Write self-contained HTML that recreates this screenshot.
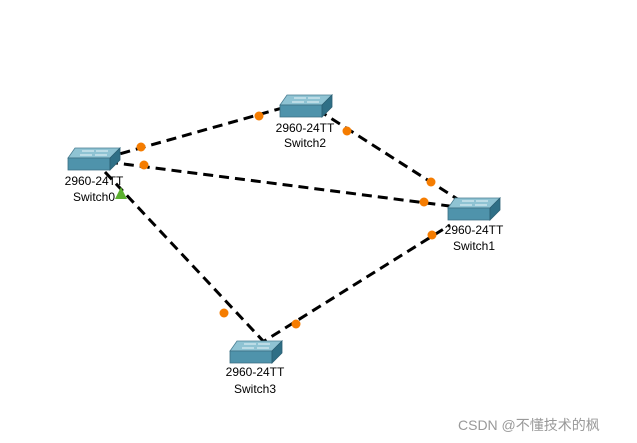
<!DOCTYPE html>
<html><head><meta charset="utf-8"><style>
html,body{margin:0;padding:0;background:#fff;}
svg{display:block;}
text{font-family:"Liberation Sans",Arial,sans-serif;font-size:12px;fill:#000;}
</style></head><body>
<svg width="637" height="443" viewBox="0 0 637 443" xmlns="http://www.w3.org/2000/svg">
<defs>
<g id="sw">
<polygon points="7,0 52,0 42,10 0,10" fill="#8fc3d3" stroke="#4b7f93" stroke-width="0.8"/>
<polygon points="0,10 42,10 42,22 0,22" fill="#4f93ab" stroke="#3b6f83" stroke-width="0.8"/>
<polygon points="42,10 52,0 52,12 42,22" fill="#2f6f86" stroke="#2b5f73" stroke-width="0.8"/>
<path d="M14,3 h12 M28,3 h12 M12,7 h12 M27,7 h12" stroke="#e8f4f8" stroke-width="1"/>
</g>
</defs>
<g stroke="#000" stroke-width="3" stroke-dasharray="10,6" fill="none">
<line x1="105" y1="158" x2="300" y2="103"/>
<line x1="108" y1="162" x2="465" y2="208"/>
<line x1="318" y1="110" x2="462" y2="202"/>
<line x1="105" y1="172" x2="265" y2="343"/>
<line x1="258" y1="345" x2="450" y2="225"/>
</g>
<g fill="#f57c00">
<circle cx="141" cy="147" r="4.5"/><circle cx="259" cy="116" r="4.5"/>
<circle cx="144" cy="165" r="4.5"/><circle cx="424" cy="202" r="4.5"/>
<circle cx="347" cy="131" r="4.5"/><circle cx="431" cy="182" r="4.5"/>
<circle cx="224" cy="313" r="4.5"/>
<circle cx="296" cy="324" r="4.5"/><circle cx="432" cy="235" r="4.5"/>
</g>
<polygon points="121,187 127,199 115,199" fill="#5cb030"/>
<use href="#sw" x="68" y="148"/>
<use href="#sw" x="280" y="95"/>
<use href="#sw" x="448" y="198"/>
<use href="#sw" x="230" y="341"/>
<g text-anchor="middle">
<text x="94" y="185">2960-24TT</text><text x="94" y="201">Switch0</text>
<text x="305" y="132">2960-24TT</text><text x="305" y="147">Switch2</text>
<text x="474" y="234">2960-24TT</text><text x="474" y="250">Switch1</text>
<text x="255" y="376">2960-24TT</text><text x="255" y="393">Switch3</text>
</g>
<text x="458" y="430" style="font-family:'Liberation Sans','Noto Sans CJK SC',sans-serif;font-size:14px;fill:#999">CSDN @不懂技术的枫</text>
</svg>
</body></html>
